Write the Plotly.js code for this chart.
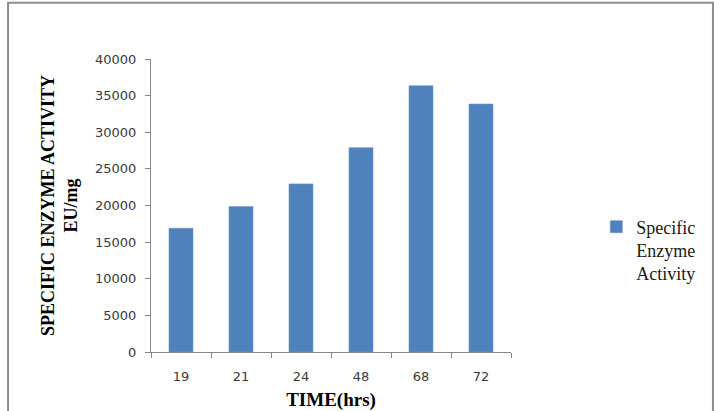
<!DOCTYPE html>
<html>
<head>
<meta charset="utf-8">
<script src="https://cdn.plot.ly/plotly-3.0.1.min.js"></script>
<style>html,body{margin:0;padding:0;background:#fff;}#chart{width:714px;height:411px;}</style>
</head>
<body>
<div id="chart"></div>
<script>
const timeLabels = ["19", "21", "24", "48", "68", "72"];
const activity = [16900, 19850, 22950, 27900, 36350, 33850];
const seriesName = "Specific<br>Enzyme<br>Activity";
const yTickVals = [0, 5000, 10000, 15000, 20000, 25000, 30000, 35000, 40000];
const yTickText = ["0", "5000", "10000", "15000", "20000", "25000", "30000", "35000", "40000"];

const trace = {
  type: "bar",
  x: timeLabels,
  y: activity,
  name: seriesName,
  marker: {color: "#4f81bd", line: {color: "#6e95c8", width: 0.6}},
  showlegend: true,
  hoverinfo: "x+y"
};

const axisGray = "#868686";
const layout = {
  width: 714, height: 411,
  margin: {l: 151, r: 203, t: 59, b: 59, pad: 0},
  paper_bgcolor: "#ffffff", plot_bgcolor: "#ffffff",
  bargap: 0.6,
  showlegend: true,
  xaxis: {
    type: "category",
    showline: true, linecolor: axisGray, linewidth: 1,
    ticks: "outside", tickson: "boundaries", ticklen: 5, tickcolor: axisGray,
    showgrid: false, zeroline: false,
    tickfont: {family: "DejaVu Sans", size: 13, color: "#3a3a3a"},
    ticklabelstandoff: 12,
    title: {text: "<b>TIME(hrs)</b>", font: {family: "Liberation Serif", size: 19, color: "#000"}, standoff: 10}
  },
  yaxis: {
    range: [0, 40000], autorange: false,
    tickmode: "array", tickvals: yTickVals, ticktext: yTickText,
    showline: true, linecolor: axisGray, linewidth: 1,
    ticks: "outside", ticklen: 5, tickcolor: axisGray,
    showgrid: false, zeroline: false,
    tickfont: {family: "DejaVu Sans", size: 13, color: "#3a3a3a"},
    ticklabelstandoff: 6,
    title: {text: "<b>SPECIFIC ENZYME ACTIVITY<br>EU/mg</b>", font: {family: "Liberation Serif", size: 18, color: "#000"}, standoff: 12}
  },
  legend: {
    x: 1.237, y: 0.49, xanchor: "left", yanchor: "top",
    valign: "top",
    font: {family: "Liberation Serif", size: 18, color: "#1a1a1a"},
    bgcolor: "rgba(0,0,0,0)", itemwidth: 30, tracegroupgap: 0
  },
  shapes: [{
    type: "rect", xref: "paper", yref: "paper",
    x0: -0.397, x1: 1.561, y0: -0.25, y1: 1.192,
    line: {color: "#8c8c8c", width: 2}, fillcolor: "rgba(0,0,0,0)", layer: "below"
  }]
};

Plotly.newPlot("chart", [trace], layout, {displayModeBar: false, staticPlot: true});
</script>
</body>
</html>
